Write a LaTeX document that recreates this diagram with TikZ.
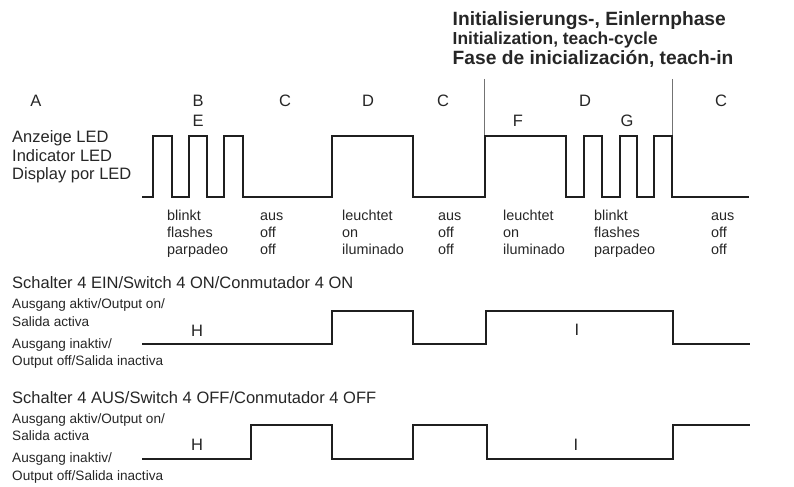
\documentclass[tikz,border=0pt]{standalone}
\usepackage{fontspec}
\setmainfont{Liberation Sans}
\begin{document}
\begin{tikzpicture}[x=1bp,y=-1bp,
  wave/.style={line width=2bp, draw=black!88, line join=miter, line cap=butt},
  phase/.style={line width=0.8bp, draw=black!55},
  big/.style={inner sep=0pt, anchor=base west, font=\fontsize{16.5bp}{18bp}\selectfont, text=black!85},
  head/.style={inner sep=0pt, anchor=base west, font=\fontsize{16.5bp}{18bp}\selectfont, text=black!85},
  small/.style={inner sep=0pt, anchor=base west, font=\fontsize{13.6bp}{15bp}\selectfont, text=black!85},
  note/.style={inner sep=0pt, anchor=base west, font=\fontsize{14.4bp}{16bp}\selectfont, text=black!85},
  letter/.style={inner sep=0pt, anchor=base, font=\fontsize{16.5bp}{18bp}\selectfont, text=black!85},
  titleA/.style={inner sep=0pt, anchor=base west, font=\fontsize{19.2bp}{21bp}\selectfont\bfseries, text=black!85},
  titleB/.style={inner sep=0pt, anchor=base west, font=\fontsize{17.4bp}{19bp}\selectfont\bfseries, text=black!85}]
\useasboundingbox (0,0) rectangle (794,487);

% title
\node[titleA] (t1) at (452.5,26) {Initialisierungs-, Einlernphase};
\node[titleB] (t2) at (452.5,44.5) {Initialization, teach-cycle};
\node[titleA] (t3) at (452.5,64.5) {Fase de inicialización, teach-in};

% phase letters
\node[letter] (lA)  at (36,106.7) {A};
\node[letter] (lB)  at (198,106.7) {B};
\node[letter] (lC1) at (285,106.7) {C};
\node[letter] (lD1) at (368,106.7) {D};
\node[letter] (lC2) at (443,106.7) {C};
\node[letter] (lD2) at (585,106.7) {D};
\node[letter] (lC3) at (721,106.7) {C};
\node[letter] (lE)  at (198,126.7) {E};
\node[letter] (lF)  at (518,126.7) {F};
\node[letter] (lG)  at (627,126.7) {G};

% phase boundary lines
\coordinate (p1a) at (484.5,79);
\coordinate (p1b) at (484.5,136);
\coordinate (p2a) at (672,79);
\coordinate (p2b) at (672,136);
\draw[phase] (p1a) -- (p1b);
\draw[phase] (p2a) -- (p2b);

% LED labels
\node[big] (led1) at (12,143) {Anzeige LED};
\node[big] (led2) at (12,161.5) {Indicator LED};
\node[big] (led3) at (12,180) {Display por LED};

% LED waveform
\draw[wave] (142,197.5) -- (153,197.5) -- (153,136) -- (172,136) -- (172,197.5)
  -- (189,197.5) -- (189,136) -- (207,136) -- (207,197.5)
  -- (224,197.5) -- (224,136) -- (243,136) -- (243,197.5)
  -- (332,197.5) -- (332,136) -- (413,136) -- (413,197.5)
  -- (485,197.5) -- (485,136) -- (566,136) -- (566,197.5)
  -- (584,197.5) -- (584,136) -- (602,136) -- (602,197.5)
  -- (620,197.5) -- (620,136) -- (637,136) -- (637,197.5)
  -- (654,197.5) -- (654,136) -- (672,136) -- (672,197.5)
  -- (749,197.5);

% state notes
\foreach \x/\a/\b/\c [count=\i] in {167/blinkt/flashes/parpadeo, 260/aus/off/off, 342/leuchtet/on/iluminado, 438/aus/off/off, 503/leuchtet/on/iluminado, 594/blinkt/flashes/parpadeo, 711/aus/off/off}{
  \node[note] (n\i a) at (\x,220.5) {\a};
  \node[note] (n\i b) at (\x,237.5) {\b};
  \node[note] (n\i c) at (\x,254.5) {\c};
}

% switch 4 ON
\node[head] (s1) at (12,289) {Schalter 4 EIN/Switch 4 ON/Conmutador 4 ON};
\node[small] (s1a) at (12,309) {Ausgang aktiv/Output on/};
\node[small] (s1b) at (12,326.7) {Salida activa};
\node[small] (s1c) at (12,348.3) {Ausgang inaktiv/};
\node[small] (s1d) at (12,365.7) {Output off/Salida inactiva};
\node[letter] (h1) at (197,336) {H};
\node[letter] (i1) at (577,335.7) {I};
\draw[wave] (142,343.5) -- (332,343.5) -- (332,310.5) -- (413,310.5) -- (413,343.5)
  -- (486,343.5) -- (486,310.5) -- (673,310.5) -- (673,343.5) -- (750,343.5);

% switch 4 OFF
\node[head] (s2) at (12,403.3) {Schalter 4 AUS/Switch 4 OFF/Conmutador 4 OFF};
\node[small] (s2a) at (12,423.3) {Ausgang aktiv/Output on/};
\node[small] (s2b) at (12,440.7) {Salida activa};
\node[small] (s2c) at (12,462.3) {Ausgang inaktiv/};
\node[small] (s2d) at (12,480) {Output off/Salida inactiva};
\node[letter] (h2) at (197,450.7) {H};
\node[letter] (i2) at (576,450.7) {I};
\draw[wave] (142,458.5) -- (251,458.5) -- (251,425) -- (332,425) -- (332,458.5)
  -- (413,458.5) -- (413,425) -- (487,425) -- (487,458.5)
  -- (673,458.5) -- (673,425) -- (750,425);
\end{tikzpicture}
\end{document}
